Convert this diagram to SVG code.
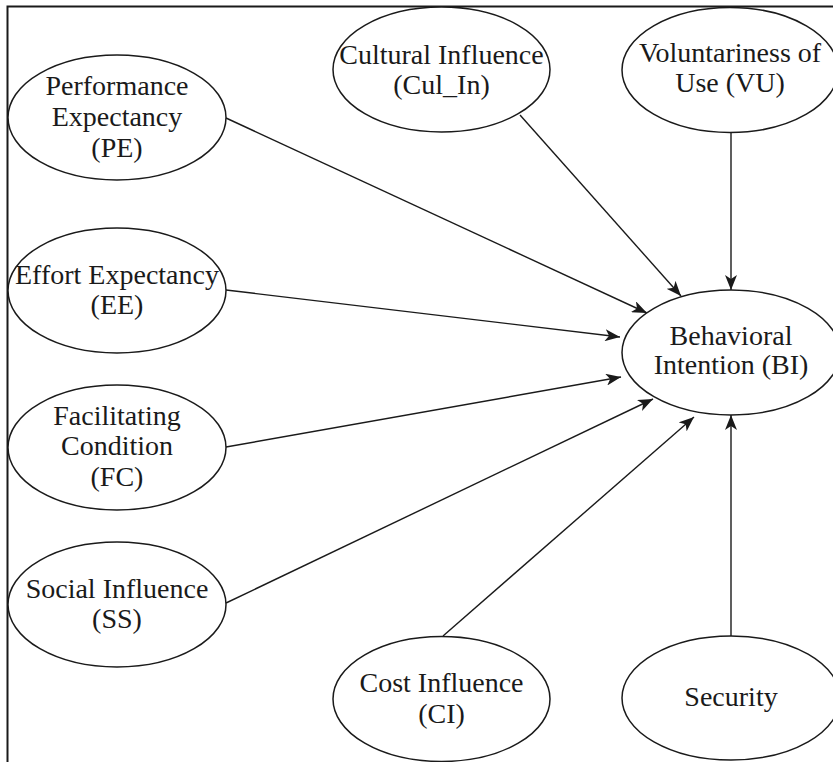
<svg xmlns="http://www.w3.org/2000/svg" width="833" height="762" viewBox="0 0 833 762">
<style>
.n ellipse{fill:#fff;stroke:#1a1a1a;stroke-width:1.5}
.n text{font-family:"Liberation Serif","Times New Roman",serif;font-size:28px;fill:#1a1a1a;text-anchor:middle}
.c line{stroke:#1a1a1a;stroke-width:1.4;marker-end:url(#ah)}
.frame{stroke:#1a1a1a;stroke-width:2;fill:none}
</style>
<defs>
<marker id="ah" markerWidth="16" markerHeight="12" refX="15" refY="6" orient="auto" markerUnits="userSpaceOnUse">
<path d="M0,0 L15,6 L0,12 L4,6 Z" fill="#1a1a1a"/>
</marker>
</defs>
<rect width="833" height="762" fill="#fff"/>
<path class="frame" d="M7.5,762 V6.5 H833"/>
<g class="c">
<line x1="226" y1="118" x2="647" y2="313"/>
<line x1="520" y1="115" x2="681" y2="296"/>
<line x1="731" y1="133" x2="731" y2="290"/>
<line x1="226" y1="290" x2="620" y2="337"/>
<line x1="226" y1="447" x2="621" y2="377"/>
<line x1="226" y1="603" x2="653" y2="399"/>
<line x1="443" y1="636" x2="694" y2="417"/>
<line x1="731" y1="636" x2="731" y2="415"/>
</g>
<g class="n" id="PE"><ellipse cx="117" cy="117.5" rx="109" ry="62.5"/><text x="117" y="95">Performance</text><text x="117" y="126">Expectancy</text><text x="117" y="157">(PE)</text></g>
<g class="n" id="EE"><ellipse cx="117" cy="290.5" rx="109" ry="62.5"/><text x="117" y="284">Effort Expectancy</text><text x="117" y="314">(EE)</text></g>
<g class="n" id="FC"><ellipse cx="117" cy="447.5" rx="109" ry="62.5"/><text x="117" y="425">Facilitating</text><text x="117" y="455">Condition</text><text x="117" y="486">(FC)</text></g>
<g class="n" id="SS"><ellipse cx="117" cy="604.5" rx="109" ry="62.5"/><text x="117" y="598">Social Influence</text><text x="117" y="628">(SS)</text></g>
<g class="n" id="Cul_In"><ellipse cx="441.5" cy="69.5" rx="108.5" ry="62.5"/><text x="441.5" y="64">Cultural Influence</text><text x="441.5" y="94">(Cul_In)</text></g>
<g class="n" id="VU"><ellipse cx="730" cy="70" rx="108" ry="62.5"/><text x="730" y="62">Voluntariness of</text><text x="730" y="92">Use (VU)</text></g>
<g class="n" id="BI"><ellipse cx="731" cy="352.5" rx="109" ry="62.5"/><text x="731" y="345">Behavioral</text><text x="731" y="374">Intention (BI)</text></g>
<g class="n" id="CI"><ellipse cx="441.5" cy="699" rx="108.5" ry="62.5"/><text x="441.5" y="692">Cost Influence</text><text x="441.5" y="723">(CI)</text></g>
<g class="n" id="Security"><ellipse cx="731" cy="698" rx="109" ry="62"/><text x="731" y="706">Security</text></g>
</svg>
